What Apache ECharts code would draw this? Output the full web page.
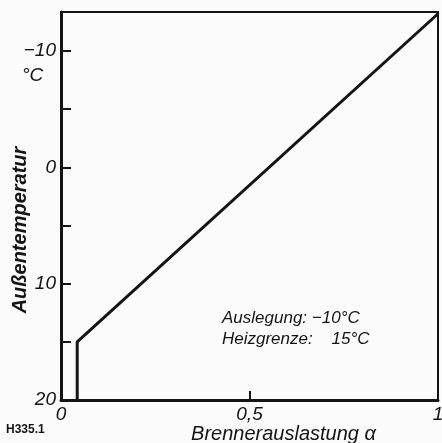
<!DOCTYPE html>
<html lang="de" style="height: 100%">
<head>
<meta charset="utf-8">
</head>
<body style="height: 100%; margin: 0; background: #fbfbfb">
<div id="container" style="width: 442px; height: 443px"></div>
<script type="text/javascript" src="https://cdn.jsdelivr.net/npm/echarts@6/dist/echarts.min.js"></script>
<script type="text/javascript">
// Brennerauslastung (x) vs. Außentemperatur (y)
var loadX = [0.043, 0.043, 1];
var tempY = [20, 15, -13.2];
var yTicks = [-10, -5, 0, 5, 10, 15, 20];
var yLabels = [-10, 0, 10, 20];
var xTicks = [0.5];
var xLabels = [0, 0.5, 1];

var dom = document.getElementById('container');
var myChart = echarts.init(dom, null, { renderer: 'canvas' });
var font = 'Liberation Sans, Arial, sans-serif';
var ink = '#141414';

var option = {
  backgroundColor: '#fbfbfb',
  animation: false,
  grid: {
    left: 61, right: 4, top: 12, bottom: 43,
    outerBoundsMode: 'none', containLabel: false,
    show: true, borderColor: ink, borderWidth: 2, backgroundColor: 'transparent'
  },
  xAxis: {
    type: 'value', min: 0, max: 1,
    name: 'Brennerauslastung α',
    nameLocation: 'middle', nameGap: 24, nameMoveOverlap: false,
    nameTextStyle: { fontFamily: font, fontStyle: 'italic', fontSize: 20, color: ink, padding: [0, 0, 0, 68] },
    axisLine: { show: true, onZero: false, lineStyle: { color: ink, width: 3 } },
    splitLine: { show: false },
    axisTick: { show: true, inside: true, length: 9, customValues: xTicks, lineStyle: { color: ink, width: 2 } },
    axisLabel: {
      customValues: xLabels, margin: 5,
      fontFamily: font, fontStyle: 'italic', fontSize: 19, color: ink,
      formatter: function (v) { return String(v).replace('.', ','); }
    }
  },
  yAxis: {
    type: 'value', min: -13.35, max: 20, inverse: true,
    name: 'Außentemperatur',
    nameLocation: 'middle', nameGap: 31, nameRotate: 90, nameMoveOverlap: false,
    nameTextStyle: { fontFamily: font, fontStyle: 'italic', fontWeight: 'bold', fontSize: 20, color: ink, padding: [0, 48, 0, 0] },
    axisLine: { show: true, onZero: false, lineStyle: { color: ink, width: 3 } },
    splitLine: { show: false },
    axisTick: { show: true, inside: true, length: 10, customValues: yTicks, lineStyle: { color: ink, width: 2 } },
    axisLabel: {
      customValues: yLabels, margin: 5,
      fontFamily: font, fontStyle: 'italic', fontSize: 19, color: ink,
      formatter: function (v) { return String(v).replace('-', '\u2212'); }
    }
  },
  graphic: [
    { type: 'text', left: 22, top: 66, style: { text: '°C', font: 'italic 19px ' + font, fill: ink } },
    { type: 'text', left: 222, top: 310, style: { text: 'Auslegung: \u221210°C', font: 'italic 17px ' + font, fill: ink } },
    { type: 'text', left: 222, top: 331, style: { text: 'Heizgrenze:    15°C', font: 'italic 17px ' + font, fill: ink } },
    { type: 'text', left: 6, top: 424, style: { text: 'H335.1', font: 'bold 12px ' + font, fill: ink } }
  ],
  series: [{
    type: 'line',
    data: loadX.map(function (x, i) { return [x, tempY[i]]; }),
    showSymbol: false,
    clip: false,
    lineStyle: { color: ink, width: 3 }
  }]
};
myChart.setOption(option);
window.addEventListener('resize', myChart.resize);
</script>
</body>
</html>
